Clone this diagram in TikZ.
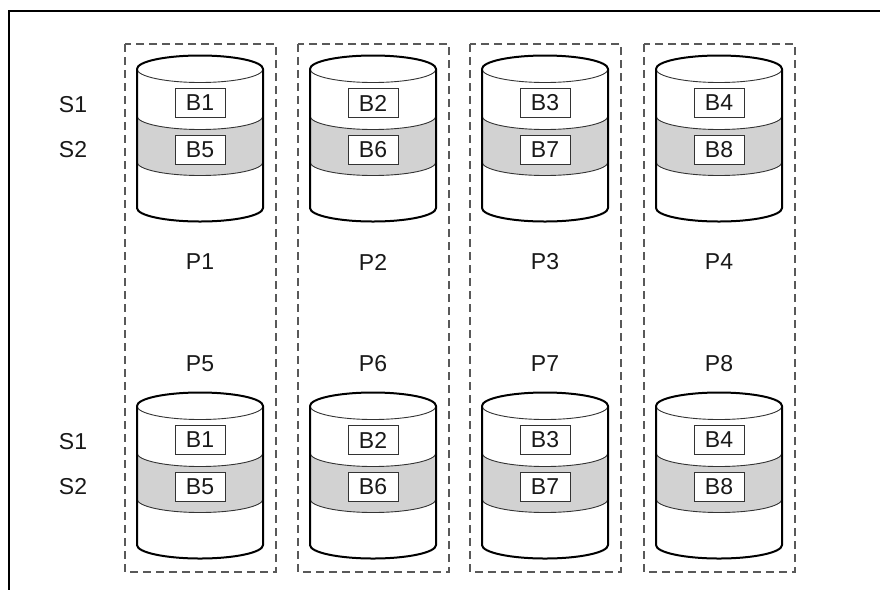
\documentclass[tikz,border=0pt]{standalone}
\usepackage{fontspec}
\setmainfont{Liberation Sans}
\tikzset{
  frameline/.style={line width=2pt, black},
  groupbox/.style={draw=black!65, line width=1.2pt, dash pattern=on 8pt off 5pt},
  cylout/.style={line width=2pt, black},
  cylthin/.style={line width=0.9pt, black!80},
  blockbox/.style={draw=black!80, line width=1pt, fill=white, minimum width=50pt, minimum height=29pt, inner sep=0pt, font=\fontsize{23}{27}\selectfont, text=black!90},
  lbl/.style={font=\fontsize{23}{27}\selectfont, text=black!90, inner sep=0pt},
}
\definecolor{bandgray}{RGB}{210,210,210}
\begin{document}
\begin{tikzpicture}[x=1pt,y=-1pt]
\useasboundingbox (0,0) rectangle (880,590);
\fill[white] (0,0) rectangle (880,590);
% frame (top and left edges only)
\coordinate (ftr) at (880,11);
\coordinate (ftl) at (8.5,11);
\coordinate (fbl) at (8.5,590);
\draw[frameline] (ftr) -- (ftl) -- (fbl);
% row labels
\node[lbl] (s1a) at (73,105) {S1};
\node[lbl] (s2a) at (73,150) {S2};
\node[lbl] (s1b) at (73,442) {S1};
\node[lbl] (s2b) at (73,487) {S2};
\foreach \c/\i [evaluate=\i as \j using int(\i+4)] in {200/1,373/2,545/3,719/4} {
  \draw[groupbox] (\c-75,44) rectangle (\c+76,572);
  \foreach \dy/\r in {0/a,337/b} {
    \begin{scope}[shift={(\c,\dy)}]
      % body
      \fill[white] (-63,69) -- (-63,208) arc[start angle=180,end angle=360,x radius=63pt,y radius=13.5pt] -- (63,69) arc[start angle=0,end angle=180,x radius=63pt,y radius=13.5pt] -- cycle;
      % gray band
      \fill[bandgray] (-63,116) arc[start angle=180,end angle=360,x radius=63pt,y radius=13.5pt] -- (63,162) arc[start angle=0,end angle=-180,x radius=63pt,y radius=13.5pt] -- cycle;
      % thin arcs
      \draw[cylthin] (-63,69) arc[start angle=180,end angle=360,x radius=63pt,y radius=13.5pt];
      \draw[cylthin] (-63,116) arc[start angle=180,end angle=360,x radius=63pt,y radius=13.5pt];
      \draw[cylthin] (-63,162) arc[start angle=180,end angle=360,x radius=63pt,y radius=13.5pt];
      % outline
      \draw[cylout, line join=round] (-63,69) -- (-63,208) arc[start angle=180,end angle=360,x radius=63pt,y radius=13.5pt] -- (63,69) arc[start angle=0,end angle=180,x radius=63pt,y radius=13.5pt] -- cycle;
    \end{scope}
  }
  \node[blockbox] (bt\i a) at (\c,103) {B\i};
  \node[blockbox] (bb\i a) at (\c,150) {B\j};
  \node[blockbox] (bt\i b) at (\c,440) {B\i};
  \node[blockbox] (bb\i b) at (\c,487) {B\j};
  \node[lbl] (p\i) at (\c,262) {P\i};
  \node[lbl] (p\j) at (\c,364) {P\j};
}
\end{tikzpicture}
\end{document}
